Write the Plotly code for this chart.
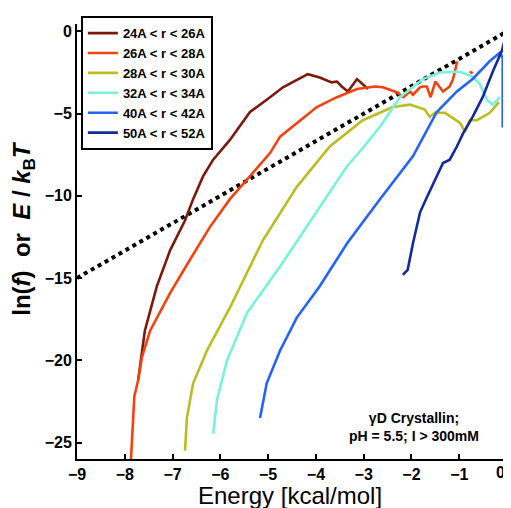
import plotly.graph_objects as go

# ---- data ----
x_24_26 = [-7.72, -7.64, -7.58, -7.33, -7.05, -6.74, -6.57, -6.36, -6.15, -5.80, -5.53, -5.38,
           -4.96, -4.69, -4.17, -3.92, -3.67, -3.56, -3.46, -3.33, -3.14, -3.02, -2.91]
y_24_26 = [-21.2, -19.6, -18.2, -15.5, -13.3, -11.5, -10.2, -8.8, -7.8, -6.6, -5.5, -4.9,
           -4.0, -3.4, -2.6, -2.8, -3.1, -3.05, -3.35, -3.65, -2.9, -3.2, -3.5]

x_26_28 = [-7.87, -7.83, -7.80, -7.72, -7.64, -7.47, -7.05, -6.64, -6.22, -5.80, -5.38, -4.96,
           -4.75, -4.33, -3.98, -3.56, -3.14, -2.77, -2.60, -2.31, -2.17, -2.03, -1.97,
           -1.82, -1.76, -1.68, -1.60, -1.50, -1.34, -1.20, -1.13, -1.05, -1.03, None, -0.78, -0.72]
y_26_28 = [-26.0, -23.2, -22.2, -21.2, -19.8, -18.2, -15.9, -13.9, -11.9, -10.2, -8.8, -7.4,
           -6.4, -5.4, -4.6, -4.0, -3.5, -3.35, -3.4, -3.7, -4.0, -3.65, -3.85,
           -3.4, -3.35, -3.35, -4.0, -3.05, -3.65, -3.35, -2.9, -1.9, -1.85, None, -2.45, -2.55]

x_28_30 = [-6.74, -6.70, -6.57, -6.28, -5.80, -5.11, -4.40, -3.71, -3.02, -2.39, -2.03, -1.89,
           -1.72, -1.62, -1.51, -1.30, -1.20, -0.99, -0.88, -0.78, -0.63, -0.36, -0.17]
y_28_30 = [-25.5, -23.5, -21.4, -19.4, -16.8, -12.7, -9.45, -7.0, -5.4, -4.6, -4.45, -4.6,
           -4.75, -5.2, -4.95, -4.95, -5.15, -5.55, -6.1, -5.4, -5.4, -4.95, -4.3]

x_32_34 = [-6.15, -6.07, -5.86, -5.44, -4.75, -4.06, -3.35, -3.02, -2.66, -2.24, -1.76, -1.41,
           -0.99, -0.72, -0.57, -0.42, -0.30, -0.15]
y_32_34 = [-24.45, -22.4, -20.0, -17.1, -14.3, -11.3, -8.2, -7.1, -5.8, -4.0, -2.9, -2.5,
           -2.45, -2.75, -3.2, -4.15, -4.45, -4.0]

x_40_42 = [-5.17, -5.03, -4.75, -4.40, -3.92, -3.35, -2.66, -1.97, -1.47, -1.05, -0.72, -0.36,
           -0.15, -0.09, -0.09]
y_40_42 = [-23.5, -21.4, -19.4, -17.4, -15.5, -12.9, -10.2, -7.6, -4.9, -3.65, -2.9, -1.8,
           -1.3, -1.6, -5.85]

x_50_52 = [-2.18, -2.08, -1.97, -1.82, -1.68, -1.51, -1.34, -1.20, -1.05, -0.92, -0.72, -0.51,
           -0.30, -0.11, -0.02, -0.01]
y_50_52 = [-14.8, -14.5, -12.9, -11.0, -10.1, -9.0, -8.0, -7.8, -7.0, -6.2, -5.2, -4.0,
           -2.45, -1.2, -0.2, -1.5]

x_ekt = [-9.0, 0.0]
y_ekt = [-15.0, 0.0]

series_names = ["24A < r < 26A", "26A < r < 28A", "28A < r < 30A",
                "32A < r < 34A", "40A < r < 42A", "50A < r < 52A"]
series_colors = ["#7a1a0c", "#f2430f", "#bdbb22", "#78f2d8", "#2462f8", "#142a98"]
series_x = [x_24_26, x_26_28, x_28_30, x_32_34, x_40_42, x_50_52]
series_y = [y_24_26, y_26_28, y_28_30, y_32_34, y_40_42, y_50_52]

x_ticks = [-9, -8, -7, -6, -5, -4, -3, -2, -1, 0]
y_ticks = [0, -5, -10, -15, -20, -25]

FONT = "Liberation Sans, Arial, Helvetica, sans-serif"
TICKFONT = dict(family=FONT, size=16, color="black", weight="bold")

fig = go.Figure()
fig.add_trace(go.Scatter(x=x_ekt, y=y_ekt, mode="lines", showlegend=False,
                         line=dict(color="black", width=4, dash="dot")))
for name, col, xs, ys in zip(series_names, series_colors, series_x, series_y):
    fig.add_trace(go.Scatter(x=xs, y=ys, mode="lines", name=name,
                             line=dict(color=col, width=2.6), connectgaps=False))

fig.add_annotation(x=-1.94, y=-24.05, xref="x", yref="y", showarrow=False,
                   text="γD Crystallin;<br>pH = 5.5; I > 300mM",
                   font=dict(family=FONT, size=14, color="black", weight="bold"),
                   align="center")

# last x tick label sits at the right edge of the figure
fig.add_annotation(x=1, y=0, xref="paper", yref="paper", showarrow=False,
                   text=str(x_ticks[-1]), xanchor="right", yanchor="top",
                   xshift=-1, yshift=-3, font=TICKFONT)

# axis titles as annotations for exact placement
fig.add_annotation(x=0.495, y=-0.083, xref="paper", yref="paper", showarrow=False,
                   text="Energy [kcal/mol]", xanchor="center", yanchor="middle",
                   font=dict(family=FONT, size=24, color="black"))
fig.add_annotation(x=-0.126, y=0.531, xref="paper", yref="paper", showarrow=False,
                   textangle=-90, xanchor="center", yanchor="middle",
                   text="<b>ln(<i>f</i>)\u00a0\u00a0or\u00a0\u00a0<i>E</i>\u00a0/\u00a0<i>k</i><sub>B</sub><i>T</i></b>",
                   font=dict(family=FONT, size=24, color="black", weight="bold"))

# page body adds an 8px offset; size the figure to fill the remaining window
fig.update_layout(
    width=503, height=500,
    margin=dict(l=69, r=3, t=16, b=49, autoexpand=False),
    paper_bgcolor="white", plot_bgcolor="white",
    font=dict(family=FONT, color="black"),
    legend=dict(x=0.009, y=1.018, xanchor="left", yanchor="top",
                bgcolor="white", bordercolor="black", borderwidth=2,
                font=dict(family=FONT, size=13, color="black", weight="bold"),
                tracegroupgap=0, itemwidth=30),
    xaxis=dict(range=[-9, 0.02], tickvals=x_ticks, ticks="inside", ticklen=5,
               tickwidth=2, tickcolor="black", showline=True, linecolor="black",
               linewidth=2, showgrid=False, zeroline=False, automargin=False,
               tickfont=TICKFONT),
    yaxis=dict(range=[-26, 0.45], tickvals=y_ticks, ticks="inside", ticklen=5,
               tickwidth=2, tickcolor="black", showline=True, linecolor="black",
               linewidth=2, mirror="ticks", showgrid=False, zeroline=False,
               automargin=False,
               tickfont=TICKFONT),
)

fig.write_html("out.html")
